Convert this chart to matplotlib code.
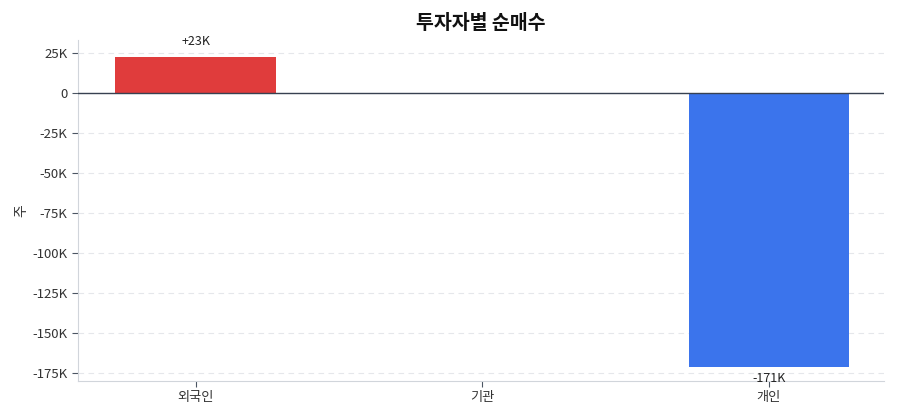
import matplotlib
matplotlib.use("Agg")
import matplotlib.pyplot as plt
from matplotlib.ticker import FuncFormatter

plt.rcParams['font.family'] = ['Noto Sans CJK KR', 'DejaVu Sans']

categories = ['외국인', '기관', '개인']
values = [22600, 0, -171000]
labels = ['+23K', '', '-171K']
colors = ['#E03C3C', '#9CA3AF', '#3B74EC']
yticks = [25000, 0, -25000, -50000, -75000, -100000, -125000, -150000, -175000]

fig = plt.figure(figsize=(9, 4.2), dpi=100)
ax = fig.add_axes([0.0867, 0.093, 0.895, 0.812])

x = list(range(len(categories)))
bars = ax.bar(x, values, width=0.56, color=colors, zorder=3)
for xi, v, lab in zip(x, values, labels):
    if not lab:
        continue
    if v >= 0:
        ax.annotate(lab, (xi, v), xytext=(0, 6), textcoords='offset points',
                    ha='center', va='bottom', fontsize=9, color='#222222')
    else:
        ax.annotate(lab, (xi, v), xytext=(0, -4), textcoords='offset points',
                    ha='center', va='top', fontsize=9, color='#222222')

ax.axhline(0, color='#374151', linewidth=1.0, zorder=4)
ax.set_xlim(-0.41, 2.40)
ax.set_ylim(-180000, 33000)
ax.set_yticks(yticks)
ax.yaxis.set_major_formatter(FuncFormatter(lambda v, p: '0' if v == 0 else f'{int(v/1000)}K'))
ax.set_xticks(x)
ax.set_xticklabels(categories)
ax.grid(axis='y', linestyle=(0, (5, 4)), color='#E5E7EB', linewidth=0.8, zorder=0)
ax.grid(axis='x', visible=False)
for s in ['top', 'right']:
    ax.spines[s].set_visible(False)
for s in ['left', 'bottom']:
    ax.spines[s].set_color('#D1D5DB')
ax.tick_params(axis='both', colors='#4B5563', labelsize=9.5, length=4, labelcolor='#333333')
ax.set_ylabel('주', fontsize=10, color='#333333', labelpad=3)
ax.set_title('투자자별 순매수', fontsize=14, fontweight='bold', color='#111111', pad=8)

fig.savefig('out.png', dpi=100)
